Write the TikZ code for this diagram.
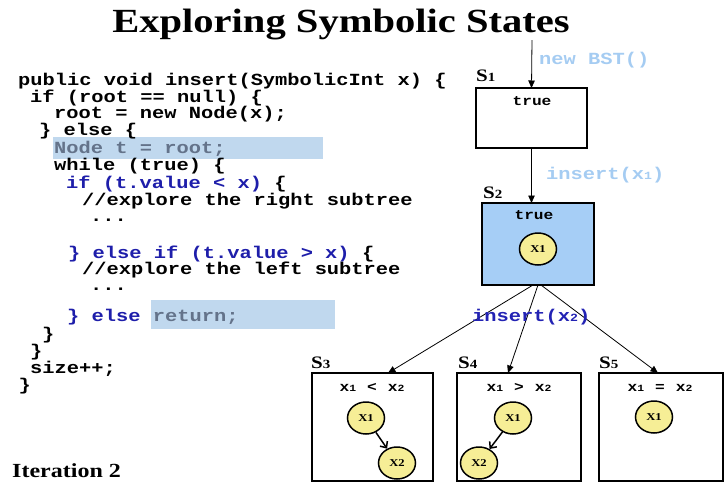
\documentclass[tikz,border=0pt]{standalone}
\usepackage{fontspec}
\setmainfont[FakeStretch=1.2]{Liberation Serif}
\setmonofont[FakeStretch=1.2]{Liberation Mono}
\usetikzlibrary{arrows.meta,calc,shapes.geometric}

\definecolor{codeblue}{RGB}{30,30,170}
\definecolor{callblue}{RGB}{165,204,242}
\definecolor{deepblue}{RGB}{35,35,180}
\definecolor{hilite}{RGB}{192,216,238}
\definecolor{dimtext}{RGB}{100,115,138}
\definecolor{statefill}{RGB}{166,206,246}
\definecolor{valfill}{RGB}{246,238,150}

% small digit sitting on the baseline, used for x1, x2, S1 ...
\newcommand\tinydigit[2]{{\fontsize{#1}{#1}\selectfont #2}}
\newcommand\cb[1]{\textcolor{codeblue}{#1}}

\tikzset{
  codeline/.style={anchor=base west, inner sep=0pt,
    font=\fontsize{17}{17}\selectfont\ttfamily\bfseries},
  calltext/.style={anchor=base west, inner sep=0pt,
    font=\fontsize{17}{17}\selectfont\ttfamily\bfseries},
  statebox/.style={draw, line width=1.1pt, inner sep=0pt, outer sep=0pt},
  statename/.style={anchor=base west, inner sep=0pt,
    font=\fontsize{17.5}{17.5}\selectfont\bfseries},
  condtext/.style={anchor=base, inner sep=0pt,
    font=\fontsize{13.5}{13.5}\selectfont\ttfamily\bfseries},
  valnode/.style={ellipse, draw, line width=1.5pt, fill=valfill,
    minimum width=37pt, minimum height=32pt, inner sep=0pt,
    font=\fontsize{10.5}{10.5}\selectfont\bfseries},
  trans/.style={line width=0.8pt, -{Triangle[length=7.5pt,width=6.5pt]}},
  link/.style={line width=1.5pt, -{Straight Barb[length=5pt,width=9pt]}},
  hibox/.style={fill=hilite, draw=none, inner sep=0pt, outer sep=0pt},
}

\begin{document}
\begin{tikzpicture}[x=1pt,y=-1pt]
\useasboundingbox (0,0) rectangle (724,483);

% heading
\node[anchor=base, inner sep=0pt, font=\fontsize{33.8}{33.8}\selectfont\bfseries]
  (title) at (341,32) {Exploring Symbolic States};

% highlighted statements
\node[hibox, minimum width=270pt, minimum height=22pt] (hl1) at (188,148) {};
\node[hibox, minimum width=184pt, minimum height=29pt] (hl2) at (243,314.5) {};

% source code of insert
\node[codeline] (c1)  at (18,85)  {public void insert(SymbolicInt x) \{};
\node[codeline] (c2)  at (30,102) {if (root == null) \{};
\node[codeline] (c3)  at (54,118) {root = new Node(x);};
\node[codeline] (c4)  at (39,135) {\} else \{};
\node[codeline, text=dimtext] (c5) at (54,153) {Node t = root;};
\node[codeline] (c6)  at (54,170) {while (true) \{};
\node[codeline] (c7)  at (66,188) {\cb{if (t.value < x)} \{};
\node[codeline] (c8)  at (82,205) {//explore the right subtree};
\node[codeline] (c9)  at (90,221) {...};
\node[codeline] (c11) at (68,258) {\cb{\} else if (t.value > x)} \{};
\node[codeline] (c12) at (82,274) {//explore the left subtree};
\node[codeline] (c13) at (90,290) {...};
\node[codeline] (c15) at (67,321) {\cb{\} else} \textcolor{dimtext}{return;}};
\node[codeline] (c16) at (42,339) {\}};
\node[codeline] (c17) at (30,356) {\}};
\node[codeline] (c18) at (30,373) {size++;};
\node[codeline] (c19) at (18.5,390) {\}};

\node[anchor=base west, inner sep=0pt, font=\fontsize{20}{20}\selectfont\bfseries]
  (iter) at (12,477) {Iteration 2};

% symbolic states
\coordinate (start) at (532,40);
\node[statebox, minimum width=111pt, minimum height=60pt] (s1) at (531.5,118) {};
\node[statebox, fill=statefill, minimum width=112pt, minimum height=82pt] (s2) at (538,244) {};
\node[statebox, minimum width=121pt, minimum height=108pt] (s3) at (372.5,427) {};
\node[statebox, minimum width=124pt, minimum height=108pt] (s4) at (519,427) {};
\node[statebox, minimum width=124pt, minimum height=108pt] (s5) at (661,427) {};

\node[statename] (n1) at (476,81)  {S\tinydigit{12.5}{1}};
\node[statename] (n2) at (483,198) {S\tinydigit{12.5}{2}};
\node[statename] (n3) at (311,368) {S\tinydigit{12.5}{3}};
\node[statename] (n4) at (458,368) {S\tinydigit{12.5}{4}};
\node[statename] (n5) at (599,368) {S\tinydigit{12.5}{5}};

% path conditions
\node[condtext] (p1) at (532,105) {true};
\node[condtext] (p2) at (534,219) {true};
\node[condtext] (p3) at (372,391) {x\tinydigit{9.5}{1}\hspace{11pt}<\hspace{11pt}x\tinydigit{9.5}{2}};
\node[condtext] (p4) at (519,391) {x\tinydigit{9.5}{1}\hspace{11pt}>\hspace{11pt}x\tinydigit{9.5}{2}};
\node[condtext] (p5) at (660,391) {x\tinydigit{9.5}{1}\hspace{11pt}=\hspace{11pt}x\tinydigit{9.5}{2}};

% heap shapes
\node[valnode] (v2)  at (538,249) {X1};
\node[valnode] (v3a) at (366,418) {X1};
\node[valnode] (v3b) at (397,463) {X2};
\node[valnode] (v4a) at (513,418) {X1};
\node[valnode] (v4b) at (479,463) {X2};
\node[valnode] (v5)  at (654,417) {X1};
\draw[link] (v3a) -- (v3b);
\draw[link] (v4a) -- (v4b);

% transitions
\draw[trans] (start) -- (s1.north);
\draw[trans] (s1.south) -- (s1.south |- s2.north);
\draw[trans] ($(s2.south)+(-5,0)$) -- ($(s3.north)+(15.5,0)$);
\draw[trans] (s2.south) -- ($(s4.north)+(-11,0)$);
\draw[trans] ($(s2.south)+(3,0)$) -- ($(s5.north)+(-3,0)$);

% method calls
\node[calltext, text=callblue] (m1) at (539,64) {new BST()};
\node[calltext, text=callblue] (m2) at (546,179) {insert(x\tinydigit{11}{1})};
\node[calltext, text=deepblue] (m3) at (472,321) {insert(x\tinydigit{11}{2})};
\end{tikzpicture}
\end{document}
